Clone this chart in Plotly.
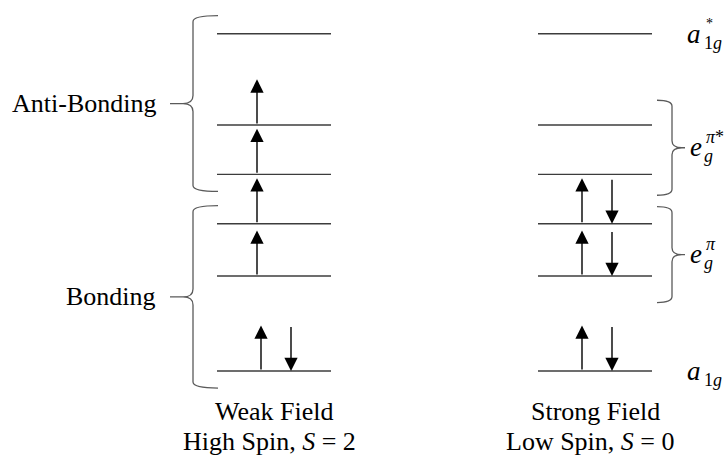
import plotly.graph_objects as go

# Molecular-orbital energies (arbitrary units, bonding a1g at zero),
# listed from the lowest orbital upwards.
orbital_names = ["a1g", "eg_pi_a", "eg_pi_b", "eg_pistar_a", "eg_pistar_b", "a1g_star"]
orbital_energy = [0.0, 1.0, 1.55, 2.07, 2.59, 3.55]

# Electrons placed in each orbital for the two ligand-field cases
weak_field_electrons = [2, 1, 1, 1, 1, 0]
strong_field_electrons = [2, 2, 2, 0, 0, 0]

field_titles = ["Weak Field", "Strong Field"]
spin_titles = ["High Spin, <i>S</i> = 2", "Low Spin, <i>S</i> = 0"]
column_x = [1, 2]

# ---------------------------------------------------------------- geometry
W, H = 727, 457
PX_X = 321.0          # pixels per x unit (distance between the two columns)
PX_Y = 95.0           # pixels per energy unit
X0_PX, E0_PX = 274, 371   # pixel position of column 1 / of energy zero
x_range = [1 - X0_PX / PX_X, 1 + (W - X0_PX) / PX_X]
y_range = [-(H - E0_PX) / PX_Y, E0_PX / PX_Y]


def dx(px):
    return px / PX_X


def dy(px):
    return px / PX_Y


HALF = dx(57)         # half-length of a level line
ARROW = 0.48          # electron arrow length in energy units

SERIF = "Times New Roman"
TXT = 26
MATH = 27
SMALL = 18
LEVEL_COLOR = "#3c3c3c"
BRACE_COLOR = "#5a5a5a"

fig = go.Figure()

# ---------------------------------------------------------------- levels
lx, ly = [], []
for cx in column_x:
    for e in orbital_energy:
        lx += [cx - HALF, cx + HALF, None]
        ly += [e, e, None]
fig.add_trace(go.Scatter(x=lx, y=ly, mode="lines",
                         line=dict(color=LEVEL_COLOR, width=1.4),
                         hoverinfo="skip", showlegend=False))

# ---------------------------------------------------------------- electrons
annotations = []


def electron(x, e, up):
    tip, tail = (e + ARROW, e) if up else (e, e + ARROW)
    annotations.append(dict(
        x=x, y=tip, ax=x, ay=tail, xref="x", yref="y", axref="x", ayref="y",
        text="", showarrow=True, arrowhead=2, arrowsize=1.9, arrowwidth=1.4,
        arrowcolor="black", standoff=0))


for cx, occ in zip(column_x, [weak_field_electrons, strong_field_electrons]):
    for e, n in zip(orbital_energy, occ):
        if n == 1:
            electron(cx - dx(17), e, True)
        elif n == 2:
            electron(cx - dx(13), e, True)
            electron(cx + dx(17), e, False)

# ---------------------------------------------------------------- braces
def brace_path(xv, xend, xtip, y_lo, y_hi, cusp, curl):
    """Curly brace: vertical stroke at xv, ends curling toward xend,
    pointed tip reaching xtip at mid-height."""
    ym = (y_lo + y_hi) / 2
    s = 1 if xtip < xv else -1
    ry, rc = dy(curl), dy(cusp)
    xc = xv - s * dx(10)
    return (f"M{xend},{y_hi} Q{xv},{y_hi} {xv},{y_hi - ry} "
            f"L{xv},{ym + rc} Q{xv},{ym} {xc},{ym} L{xtip},{ym} "
            f"M{xc},{ym} Q{xv},{ym} {xv},{ym - rc} "
            f"L{xv},{y_lo + ry} Q{xv},{y_lo} {xend},{y_lo}")


shapes = []
left_edge = column_x[0] - HALF
right_edge = column_x[1] + HALF

# left-hand groups: (label, lowest orbital, highest orbital)
left_groups = [("Anti-Bonding", 3, 5), ("Bonding", 0, 2)]
for label, lo, hi in left_groups:
    y_lo = orbital_energy[lo] - 0.18
    y_hi = orbital_energy[hi] + 0.19
    xv, xend, xtip = left_edge - dx(24), left_edge + dx(1), left_edge - dx(47)
    shapes.append(dict(type="path", xref="x", yref="y",
                       path=brace_path(xv, xend, xtip, y_lo, y_hi, 8, 6),
                       line=dict(color=BRACE_COLOR, width=1.3)))
    annotations.append(dict(x=xtip, y=(y_lo + y_hi) / 2, xref="x", yref="y",
                            text=label, showarrow=False, xanchor="right",
                            yanchor="middle", xshift=-12,
                            font=dict(family=SERIF, size=TXT, color="black")))

# right-hand groups with asymmetric padding below / above
right_groups = [(3, 4, 0.22, 0.26), (1, 2, 0.28, 0.18)]
right_mid = []
for lo, hi, pad_lo, pad_hi in right_groups:
    y_lo = orbital_energy[lo] - pad_lo
    y_hi = orbital_energy[hi] + pad_hi
    xv, xend, xtip = right_edge + dx(20), right_edge + dx(5), right_edge + dx(33)
    shapes.append(dict(type="path", xref="x", yref="y",
                       path=brace_path(xv, xend, xtip, y_lo, y_hi, 7, 6),
                       line=dict(color=BRACE_COLOR, width=1.3)))
    right_mid.append((y_lo + y_hi) / 2)


# ---------------------------------------------------------------- symmetry labels
def txt(text, y, xshift, yshift, size):
    annotations.append(dict(x=right_edge, y=y, xref="x", yref="y", text=text,
                            showarrow=False, xanchor="left", yanchor="middle",
                            xshift=xshift, yshift=yshift,
                            font=dict(family=SERIF, size=size, color="black")))


# a1g* and a1g beside their levels
for idx, star in [(5, True), (0, False)]:
    e = orbital_energy[idx]
    txt("<i>a</i>", e, 33, 0, MATH)
    txt("1<i>g</i>", e, 50, -9, SMALL)
    if star:
        txt("*", e, 52, 10, 14)

# e_g^{pi*} and e_g^{pi} at the brace tips
for ym, sup in zip(right_mid, ["<i>π</i>*", "<i>π</i>"]):
    txt("<i>e</i>", ym, 36, 1, MATH)
    txt("<i>g</i>", ym, 50, -8, SMALL)
    txt(sup, ym, 52, 11, SMALL)

# ---------------------------------------------------------------- column titles
for cx, t1, t2 in zip(column_x, field_titles, spin_titles):
    annotations.append(dict(x=cx, y=orbital_energy[0], xref="x", yref="y",
                            text=t1, showarrow=False, xanchor="center",
                            yanchor="middle", yshift=-40,
                            font=dict(family=SERIF, size=TXT, color="black")))
    annotations.append(dict(x=cx, y=orbital_energy[0], xref="x", yref="y",
                            text=t2, showarrow=False, xanchor="center",
                            yanchor="middle", xshift=-5, yshift=-70,
                            font=dict(family=SERIF, size=TXT, color="black")))

fig.update_layout(
    width=W, height=H,
    margin=dict(l=0, r=0, t=0, b=0),
    paper_bgcolor="white", plot_bgcolor="white",
    font=dict(family=SERIF),
    xaxis=dict(range=x_range, visible=False, fixedrange=True),
    yaxis=dict(range=y_range, visible=False, fixedrange=True),
    shapes=shapes, annotations=annotations, showlegend=False,
)

fig.write_html("out.html")
